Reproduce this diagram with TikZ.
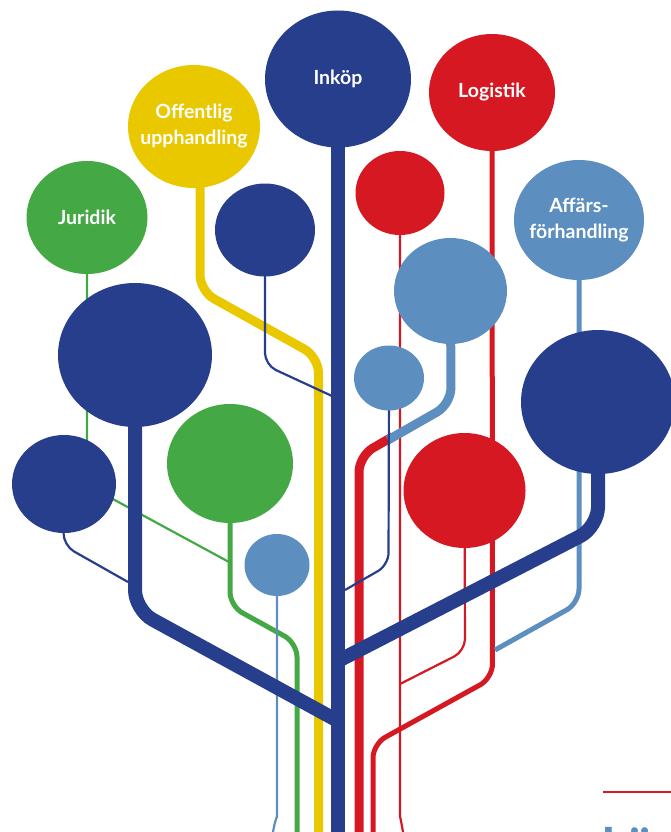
\documentclass[tikz,border=0pt]{standalone}
\usepackage{fontspec}
\newfontfamily\lblfont{Lato}
\usepackage{tikz}
\usetikzlibrary{shapes.geometric,backgrounds}
\definecolor{tnavy}{RGB}{38,62,140}
\definecolor{tred}{RGB}{213,24,33}
\definecolor{tyellow}{RGB}{233,200,0}
\definecolor{tgreen}{RGB}{68,168,68}
\definecolor{tblue}{RGB}{92,142,192}
\tikzset{
    bubble/.style 2 args={ellipse, inner sep=0pt,
        minimum width=#1pt, minimum height=#2pt},
    tag/.style={text=white, align=center, inner sep=0pt,
        font=\lblfont\bfseries\fontsize{19.5}{26}\selectfont},
    twig/.style={line width=2.2pt, rounded corners=12pt},
    branch/.style={line width=5pt, rounded corners=14pt},
    bough/.style={line width=9pt, rounded corners=16pt},
    trunk/.style={line width=14pt, rounded corners=20pt}
}
\begin{document}
\begin{tikzpicture}[x=1pt, y=-1pt]
    \useasboundingbox (0,0) rectangle (671,832);
    \clip (0,0) rectangle (671,832);

    % labelled bubbles
    \node[bubble={146}{137}, fill=tnavy, label={[tag]center:Inköp}] (inkop) at (338,79) {};
    \node[bubble={126}{117}, fill=tred, label={[tag]center:Logistik}] (logistik) at (492,92.5) {};
    \node[bubble={132}{123}, fill=tyellow, label={[tag]center:{Offentlig\\upphandling}}] (offentlig) at (194,126.5) {};
    \node[bubble={121}{113}, fill=tgreen, label={[tag]center:Juridik}] (juridik) at (87,217.5) {};
    \node[bubble={130}{120}, fill=tblue, label={[tag]center:{Affärs-\\förhandling}}] (affars) at (579,220) {};

    % plain bubbles
    \node[bubble={100}{93}, fill=tnavy] (navyA) at (265,230) {};
    \node[bubble={89}{84}, fill=tred] (redA) at (400,193) {};
    \node[bubble={113}{106}, fill=tblue] (blueA) at (450.5,291) {};
    \node[bubble={154}{144}, fill=tnavy] (navyB) at (135,355) {};
    \node[bubble={70}{65}, fill=tblue] (blueB) at (389,378) {};
    \node[bubble={154}{144}, fill=tnavy] (navyC) at (598,402) {};
    \node[bubble={104}{98}, fill=tnavy] (navyD) at (64,484) {};
    \node[bubble={126}{119}, fill=tgreen] (greenA) at (230,463.5) {};
    \node[bubble={122}{115}, fill=tred] (redB) at (464.5,490.5) {};
    \node[bubble={65}{62}, fill=tblue] (blueC) at (277,565) {};

    % joints and feet
    \coordinate (redjoin) at (400,684);
    \coordinate (logjoin) at (495,650);
    \coordinate (redstart) at (393,436.5);
    \coordinate (bluejoin) at (388,440);
    \coordinate (greenjoin) at (229,562);
    \coordinate (navyjoinA) at (332,396);
    \coordinate (navyjoinD) at (128,582);
    \coordinate (navyjoinB) at (345,590);
    \coordinate (forkL) at (338,721);
    \coordinate (forkR) at (338,661);
    \coordinate (ruleA) at (603,792);
    \coordinate (ruleB) at (671,792);

    \begin{scope}[on background layer]
        \draw[twig, tred] (redA.center) -- (400,805) to[out=-90,in=100] (403,832);
        \draw[twig, tred] (redB.center) -- (465,651) -- (redjoin);
        \draw[branch, tred] (logistik.center) -- (492.5,678) -- (373,744) -- (373,832);
        \draw[branch, tblue] (affars.center) -- (579,603) -- (logjoin);
        \draw[bough, tred] (redstart) -- (359,456) -- (359,832);
        \draw[bough, tblue] (blueA.center) -- (451,404) -- (bluejoin);
        \draw[twig, tgreen] (juridik.center) -- (87,485) -- (greenjoin);
        \draw[branch, tgreen] (greenA.center) -- (230,606) -- (297,643) -- (297,832);
        \draw[twig, tblue] (blueC.center) -- (277,805) to[out=-90,in=80] (273,832);
        \draw[bough, tyellow] ([xshift=6pt]offentlig.center) -- (200,291) -- (318.5,357) -- (318.5,832);
        \draw[twig, tnavy] (navyA.center) -- (265,365) -- (navyjoinA);
        \draw[twig, tnavy] (navyD.center) -- (63.5,545.5) -- (navyjoinD);
        \draw[twig, tnavy] (blueB.center) -- (388.5,565) -- (navyjoinB);
        \draw[trunk, tnavy] (inkop.center) -- (338,832);
        \draw[trunk, tnavy] (navyB.center) -- (135,610) -- (forkL);
        \draw[trunk, tnavy] (navyC.center) -- (598,527) -- (forkR);
    \end{scope}

    \draw[tred, line width=2.7pt] (ruleA) -- (ruleB);
    \node[anchor=base west, inner sep=0pt, text=tblue,
        font=\lblfont\bfseries\fontsize{50}{60}\selectfont] (lasmer) at (601,863) {Läs};
\end{tikzpicture}
\end{document}
